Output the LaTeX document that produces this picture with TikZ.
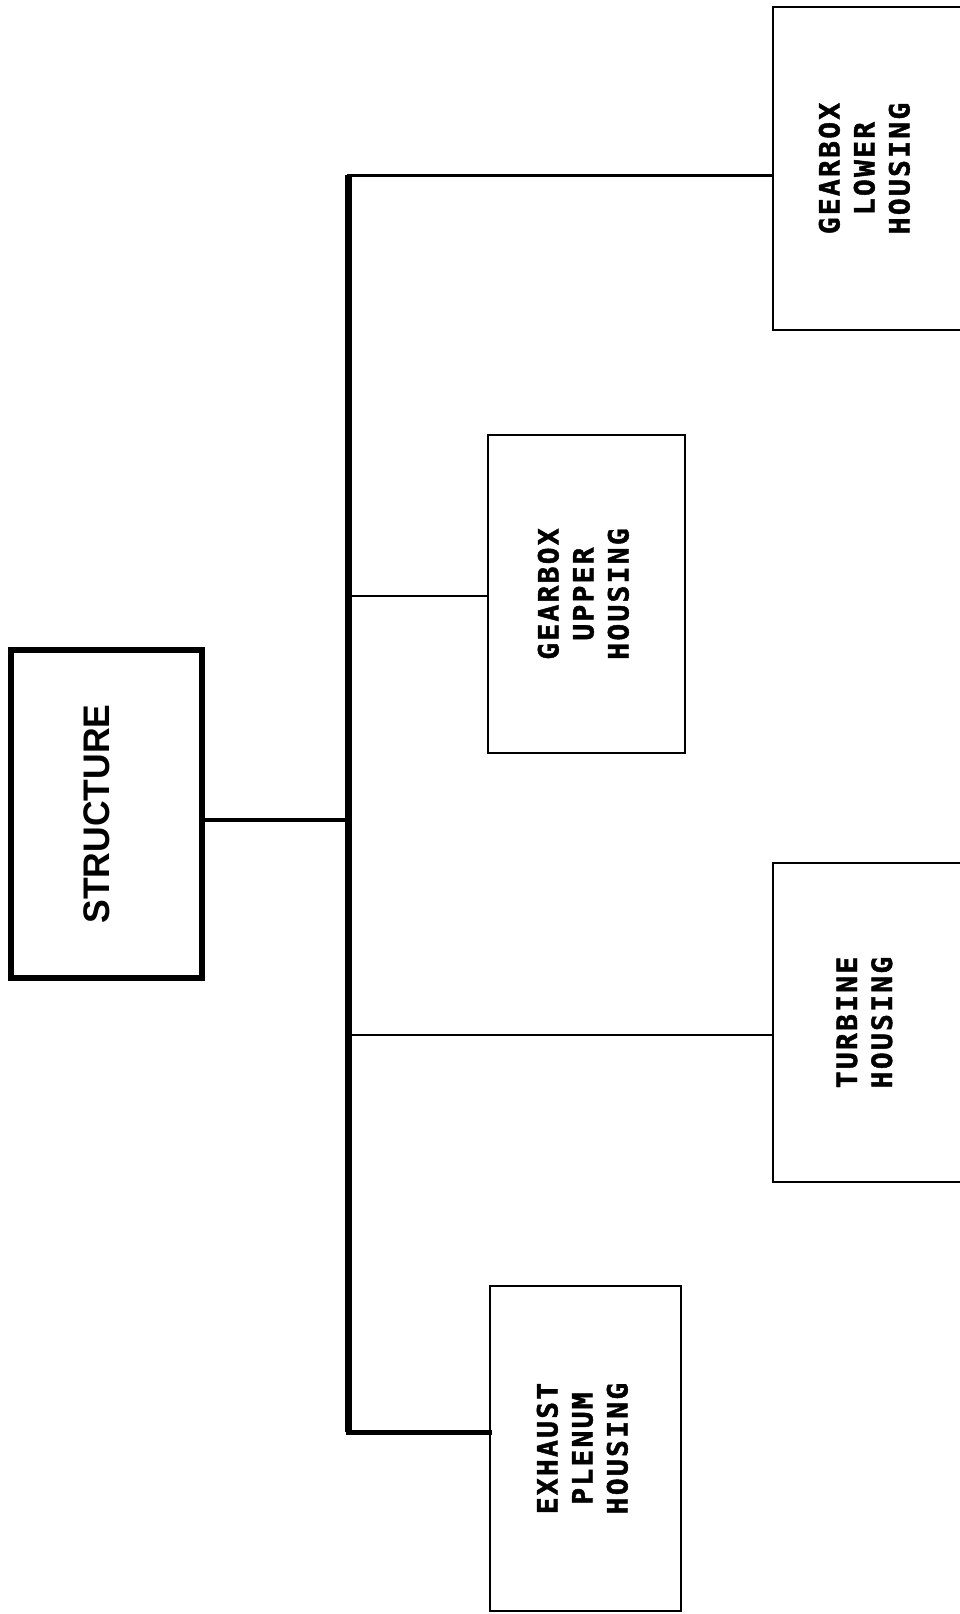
\documentclass[tikz,border=0pt]{standalone}
\usepackage{fontspec}
\usepackage{graphicx}
\setmainfont{Liberation Sans}
\newfontfamily\boxfont{DejaVu Sans Mono}[LetterSpace=8, BoldFeatures={FakeBold=1.6}]
\newfontfamily\titlefont{Liberation Sans}[FakeStretch=0.96]
\begin{document}
\begin{tikzpicture}[x=1pt,y=-1pt,
  topbox/.style={draw, line width=6pt, minimum width=191pt, minimum height=328pt, inner sep=0pt},
  partbox/.style={draw, line width=1.8pt, inner sep=0pt, align=center,
    font=\boxfont\bfseries\fontsize{28}{35}\selectfont},
  bus/.style={line width=7pt},
  link/.style={line width=2.6pt}]
\useasboundingbox[fill=white] (0,0) rectangle (960,1614);

% top box
\node[topbox] (S) at (106.5,814) {};
\node[font=\titlefont\bfseries\fontsize{37}{40}\selectfont, inner sep=0pt] (stxt) at (97,814) {\rotatebox{90}{STRUCTURE}};

% part boxes
\node[partbox, minimum width=189pt, minimum height=323pt] (GL) at (867.5,168.5)
  {\rotatebox{90}{\begin{tabular}{@{}c@{}}GEARBOX\\LOWER\\HOUSING\end{tabular}}};
\node[partbox, minimum width=197pt, minimum height=318pt] (GU) at (586.5,594)
  {\rotatebox{90}{\begin{tabular}{@{}c@{}}GEARBOX\\UPPER\\HOUSING\end{tabular}}};
\node[partbox, minimum width=189pt, minimum height=319pt] (TH) at (867.5,1022.5)
  {\rotatebox{90}{\begin{tabular}{@{}c@{}}TURBINE\\HOUSING\end{tabular}}};
\node[partbox, minimum width=191pt, minimum height=325pt] (EX) at (585.5,1448.5)
  {\rotatebox{90}{\begin{tabular}{@{}c@{}}EXHAUST\\PLENUM\\HOUSING\end{tabular}}};

% bus coordinates
\coordinate (btop) at (348,175);
\coordinate (bbot) at (348,1432);
\coordinate (bs) at (348,820);
\coordinate (bgu) at (348,596);
\coordinate (bth) at (348,1035);

\draw[bus] (btop) -- (bbot);
\draw[line width=3pt, line cap=rect] (btop) -- (GL.west |- btop);
\draw[line width=5pt, line cap=rect] (bbot) -- (EX.west |- bbot);
\draw[line width=3.4pt] (S.east |- bs) -- (bs);
\draw[link] (bgu) -- (GU.west |- bgu);
\draw[link] (bth) -- (TH.west |- bth);
\end{tikzpicture}
\end{document}
